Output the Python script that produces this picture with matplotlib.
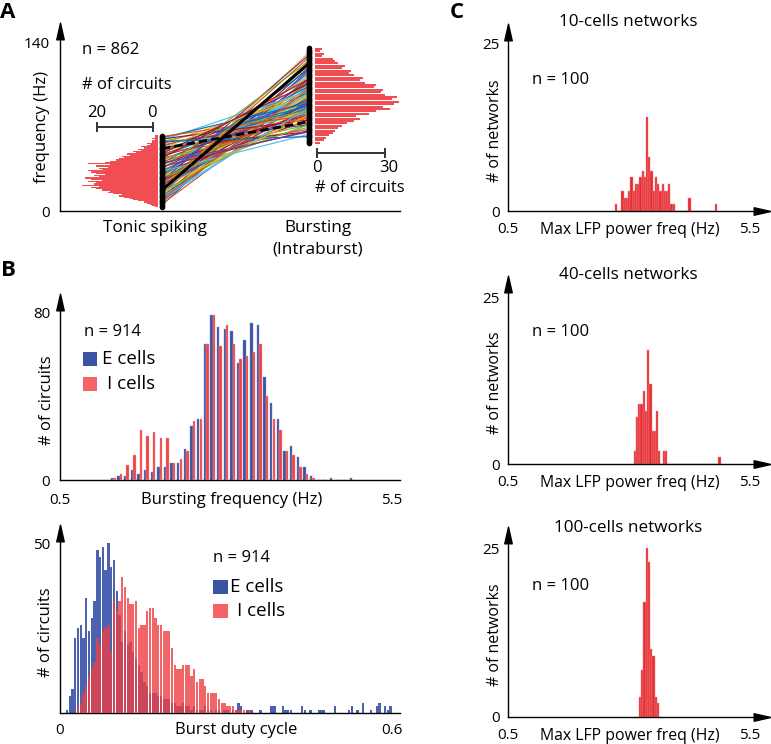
import numpy as np
import matplotlib
matplotlib.use('Agg')
import matplotlib.pyplot as plt
from matplotlib.path import Path
from matplotlib.patches import Rectangle

plt.rcParams['font.family'] = ['Open Sans', 'DejaVu Sans']
plt.rcParams['axes.linewidth'] = 1.0

# ---------------- DATA ----------------
# Panel A: histograms of firing frequency (Hz)
tonic_bin_hz = list(range(3, 63))            # 1-Hz bins (lower edges)
tonic_counts = [1, 2, 3, 4, 5, 7, 9, 10, 12, 14, 13, 16, 18, 17, 20, 22,
                24, 21, 27, 23, 22, 25, 20, 24, 26, 21, 23, 19, 22, 24, 25, 20,
                21, 18, 22, 17, 25, 19, 17, 15, 14, 12, 13, 10, 11, 8, 9, 6,
                7, 5, 6, 4, 3, 4, 2, 2, 1, 2, 1, 1]
burst_bin_hz = list(range(56, 136, 2))       # 2-Hz bins (lower edges)
burst_counts = [2, 4, 5, 6, 8, 9, 10, 12, 14, 17, 20, 18, 24, 27, 33, 30, 35, 37,
                34, 36, 31, 29, 30, 26, 27, 22, 20, 21, 17, 15, 16, 12, 13, 10, 9,
                8, 3, 4, 2, 3]
# circuits: tonic frequency -> intraburst frequency
tonic_line_hz = [5, 6, 7, 8, 9, 10, 11, 12, 13, 14, 15, 16, 17, 18, 19, 20, 21, 22,
                 23, 24, 25, 26, 27, 28, 29, 30, 31, 32, 33, 34, 35, 36, 37, 38, 39,
                 40, 41, 42, 43, 44, 45, 46, 47, 48, 49, 50, 51, 52, 53, 54, 55, 56,
                 57, 58, 59, 60, 61, 62, 18, 25, 35, 12, 44, 30, 22, 52, 40, 28, 33,
                 48, 58, 10, 20, 37]
burst_line_hz = [118, 96, 126, 104, 112, 88, 120, 100, 108, 94, 116, 84, 104, 110,
                 92, 128, 98, 86, 106, 114, 90, 100, 80, 96, 108, 88, 102, 76, 94,
                 84, 112, 90, 70, 98, 82, 104, 78, 92, 86, 72, 96, 80, 88, 68, 84,
                 92, 74, 82, 66, 88, 78, 96, 72, 84, 100, 76, 90, 80, 132, 130, 125,
                 86, 110, 118, 122, 100, 66, 72, 64, 106, 62, 102, 80, 67]
solid_pair_hz = [17.5, 123]
dashed_pair_hz = [52, 74.4]

# Panel B (top): bursting frequency histogram, 0.1-Hz bins
bf_hz = [1.3, 1.4, 1.5, 1.6, 1.7, 1.8, 1.9, 2.0, 2.1, 2.2, 2.3, 2.4, 2.5, 2.6, 2.7,
         2.8, 2.9, 3.0, 3.1, 3.2, 3.3, 3.4, 3.5, 3.6, 3.7, 3.8, 3.9, 4.0, 4.1, 4.2,
         4.3, 4.4, 4.5, 4.6, 4.7, 4.8, 4.9]
bf_E = [1, 2, 2, 5, 3, 5, 4, 6, 6, 8, 8, 15, 26, 29, 65, 79, 73, 72, 71, 56, 67, 75,
        74, 49, 37, 29, 14, 16, 11, 6, 2, 0, 0, 1, 0, 0, 1]
bf_I = [1, 3, 7, 12, 24, 21, 23, 20, 20, 8, 10, 14, 28, 29, 65, 79, 64, 74, 65, 58,
        59, 61, 65, 40, 29, 24, 14, 12, 6, 3, 1, 0, 0, 0, 0, 0, 0]

# Panel B (bottom): burst duty cycle histogram, 0.005 bins from 0 to 0.6
dc_E = [0, 0, 1, 5, 7, 22, 25, 26, 22, 34, 24, 28, 33, 48, 46, 49, 42, 50, 43, 45,
        36, 29, 21, 24, 20, 21, 18, 16, 14, 12, 9, 8, 6, 6, 6, 5, 5, 4, 4, 4,
        3, 3, 2, 2, 3, 2, 2, 1, 2, 1, 1, 1, 2, 1, 1, 0, 1, 1, 0, 1,
        1, 0, 1, 1, 3, 2, 0, 1, 1, 1, 0, 0, 1, 0, 0, 0, 2, 2, 0, 0,
        2, 1, 1, 1, 0, 0, 0, 2, 1, 0, 1, 0, 0, 1, 1, 1, 0, 0, 0, 2,
        0, 0, 0, 0, 1, 2, 0, 1, 0, 3, 0, 0, 1, 0, 2, 3, 0, 2, 1, 2]
dc_I = [0, 0, 0, 0, 0, 0, 2, 3, 6, 8, 11, 13, 15, 22, 20, 24, 25, 26, 18, 33,
        30, 33, 40, 37, 34, 32, 32, 33, 25, 26, 26, 30, 31, 31, 28, 26, 26, 24, 24, 24,
        19, 14, 13, 13, 14, 14, 14, 11, 13, 9, 10, 10, 8, 6, 6, 6, 6, 4, 3, 3,
        2, 2, 2, 1, 1, 1, 1, 0, 1, 0, 0, 0, 0, 0, 0, 0, 0, 0, 0, 0,
        0, 0, 0, 0, 0, 0, 0, 0, 0, 0, 0, 0, 0, 0, 0, 0, 0, 0, 0, 0,
        0, 0, 0, 0, 0, 0, 0, 0, 0, 0, 0, 0, 0, 0, 0, 0, 0, 0, 0, 0]

# Panel C: max LFP power frequency histograms (bins of ~0.046 Hz)
c_titles = ['10-cells networks', '40-cells networks', '100-cells networks']
c_start_hz = [2.73, 3.12, 3.23]
c_counts = [
    [1, 0, 0, 3, 2, 2, 3, 5, 3, 4, 4, 5, 6, 5, 14, 8, 6, 3, 5, 4, 3, 4, 3, 3, 4, 1, 1,
     0, 0, 0, 0, 0, 0, 2, 0, 0, 0, 0, 0, 0, 0, 0, 0, 0, 0, 1],
    [2, 7, 9, 9, 11, 8, 17, 12, 5, 5, 8, 2, 0, 2, 2, 0, 0, 0, 0, 0, 0, 0, 0, 0, 0, 0,
     0, 0, 0, 0, 0, 0, 0, 0, 0, 0, 0, 0, 1],
    [3, 7, 17, 25, 23, 10, 9, 3, 2],
]

# ---------------- LAYOUT HELPERS ----------------
W, H = 771, 744
fig = plt.figure(figsize=(W / 100, H / 100), dpi=100)


def add_ax(left, right, bottom, top):
    return fig.add_axes([left / W, 1 - bottom / H, (right - left) / W, (bottom - top) / H])


def ftext(x, y, s, **kw):
    kw.setdefault('ha', 'left')
    kw.setdefault('va', 'center')
    return fig.text(x / W, 1 - y / H, s, **kw)


def frect(x0, y0, x1, y1, color):
    fig.add_artist(Rectangle((x0 / W, 1 - y1 / H), (x1 - x0) / W, (y1 - y0) / H,
                             transform=fig.transFigure, color=color, lw=0))


UP = Path([(-0.45, -1), (0.45, -1), (0, 1), (-0.45, -1)],
          [Path.MOVETO, Path.LINETO, Path.LINETO, Path.CLOSEPOLY])
RIGHT = Path([(-1, -0.45), (-1, 0.45), (1, 0), (-1, -0.45)],
             [Path.MOVETO, Path.LINETO, Path.LINETO, Path.CLOSEPOLY])


def style(ax, xarrow=False):
    for s in ('top', 'right'):
        ax.spines[s].set_visible(False)
    ax.tick_params(length=0, labelsize=11)
    ax.plot([0], [1], marker=UP, ms=12, color='k', transform=ax.transAxes,
            clip_on=False, zorder=10)
    if xarrow:
        ax.plot([1], [0], marker=RIGHT, ms=12, color='k', transform=ax.transAxes,
                clip_on=False, zorder=10)


RED_A = '#F04E52'
BLUE = '#3A54A4'
RED_B = '#EE4444'
RED_C = '#E62B30'

# ---------------- PANEL A ----------------
axA = add_ax(60, 400, 211, 31)
axA.set_xlim(0, 340)
axA.set_ylim(0, 150)
style(axA)
axA.set_xticks([])
axA.set_yticks([0, 140])
axA.tick_params(axis='y', pad=7)
TONIC_X, BURST_X = 102, 249
palette = ['#0072BD', '#D95319', '#EDB120', '#7E2F8E', '#77AC30', '#4DBEEE', '#A2142F']
for i, (t, b) in enumerate(zip(tonic_line_hz, burst_line_hz)):
    axA.plot([TONIC_X, BURST_X], [t, b], color=palette[i % len(palette)], lw=0.85, zorder=2)
axA.plot([TONIC_X, BURST_X], solid_pair_hz, color='k', lw=2.2, zorder=4)
axA.plot([TONIC_X, BURST_X], dashed_pair_hz, color='k', lw=2.0, ls=(0, (3, 1.5)), zorder=4)

tc = np.array(tonic_bin_hz) + 0.5
tcount = np.array(tonic_counts)
axA.barh(tc, -tcount * 2.8, height=0.9, left=98, color=RED_A, lw=0, zorder=3)
bc = np.array(burst_bin_hz) + 1.0
bcount = np.array(burst_counts)
axA.barh(bc, bcount * 2.27, height=1.8, left=255, color=RED_A, lw=0, zorder=3, clip_on=False)
axA.plot(np.full(len(tc), TONIC_X), tc, 'o', ms=3.0, color='k', zorder=5)
axA.plot(np.full(len(bc) * 2, BURST_X), np.concatenate([bc - 0.5, bc + 0.5]), 'o',
         ms=3.0, color='k', zorder=5)
# scale bars
for (x0, x1, y) in [(37, 93, 70), (257, 325, 48.3)]:
    axA.plot([x0, x1], [y, y], color='#333333', lw=1.4, clip_on=False)
    axA.plot([x0, x0], [y - 3.5, y + 3.5], color='#333333', lw=1.4, clip_on=False)
    axA.plot([x1, x1], [y - 3.5, y + 3.5], color='#333333', lw=1.4, clip_on=False)
axA.text(22, 134, 'n = 862', fontsize=12, va='center')
axA.text(22, 105, '# of circuits', fontsize=12, va='center')
axA.text(37, 82, '20', fontsize=12, ha='center', va='center')
axA.text(92, 82, '0', fontsize=12, ha='center', va='center')
axA.text(257, 36, '0', fontsize=12, ha='center', va='center')
axA.text(329, 36, '30', fontsize=12, ha='center', va='center', clip_on=False)
axA.text(300, 19, '# of circuits', fontsize=12, ha='center', va='center', clip_on=False)
ftext(155, 228, 'Tonic spiking', fontsize=12.3, ha='center')
ftext(318, 228, 'Bursting', fontsize=12.3, ha='center')
ftext(318, 250, '(Intraburst)', fontsize=12.3, ha='center')
ftext(42, 127, 'frequency (Hz)', fontsize=12, rotation=90, ha='center')

# ---------------- PANEL B top ----------------
axB1 = add_ax(60, 400, 480, 302)
axB1.set_xlim(0.5, 5.62)
axB1.set_ylim(0, 85)
style(axB1)
x = np.array(bf_hz)
axB1.bar(x - 0.019, bf_E, width=0.036, color=BLUE, edgecolor='#7F92CF', lw=0.3, zorder=2)
axB1.bar(x + 0.019, bf_I, width=0.036, color=RED_B, edgecolor='#F59A9A', lw=0.3, zorder=3)
axB1.set_yticks([0, 80])
axB1.set_xticks([0.5, 5.5])
axB1.set_xticklabels(['0.5', '5.5'])
axB1.tick_params(axis='y', pad=7)
axB1.tick_params(axis='x', pad=9)
ftext(232, 500, 'Bursting frequency (Hz)', fontsize=12, ha='center')
ftext(47, 400, '# of circuits', fontsize=12, rotation=90, ha='center')
ftext(84, 332, 'n = 914', fontsize=12)
frect(83, 352, 97, 366, BLUE)
frect(83, 377, 97, 391, '#F26466')
ftext(102, 359, 'E cells', fontsize=13.5)
ftext(107, 384, 'I cells', fontsize=13.5)

# ---------------- PANEL B bottom ----------------
axB2 = add_ax(60, 400, 713, 533)
axB2.set_xlim(0, 0.6145)
axB2.set_ylim(0, 53)
style(axB2)
dc_x = (np.arange(len(dc_E)) + 0.5) * 0.005
axB2.bar(dc_x, dc_E, width=0.0042, color='#3A55AA', alpha=0.92, lw=0, zorder=2)
axB2.bar(dc_x, dc_I, width=0.0042, color='#EE3F44', alpha=0.8, lw=0, zorder=3)
axB2.set_yticks([50])
axB2.set_xticks([0, 0.6])
axB2.set_xticklabels(['0', '0.6'])
axB2.tick_params(axis='y', pad=7)
axB2.tick_params(axis='x', pad=7)
ftext(236, 730, 'Burst duty cycle', fontsize=12, ha='center')
ftext(46, 632, '# of circuits', fontsize=12, rotation=90, ha='center')
ftext(213, 558, 'n = 914', fontsize=12)
frect(213, 580, 228, 594, BLUE)
frect(213, 604, 228, 618, '#F26466')
ftext(230, 587, 'E cells', fontsize=13.5)
ftext(237, 611, 'I cells', fontsize=13.5)

# ---------------- PANEL C ----------------
c_geo = [  # bottom, arrow-centre, title y, n y, ylabel y
    (211, 31.5, 22, 80, 131),
    (464, 283.5, 275, 332, 383),
    (717, 535, 528, 586, 635),
]
c_y25 = [43, 297, 548]
BINW = 0.046
for k in range(3):
    bottom, topc, ty, ny, yl = c_geo[k]
    s = (bottom - c_y25[k]) / 25.0
    ymax = (bottom - topc) / s
    ax = add_ax(508, 762, bottom, topc)
    ax.set_xlim(0.5, 5.748)
    ax.set_ylim(0, ymax)
    style(ax, xarrow=True)
    cnt = c_counts[k]
    xs = c_start_hz[k] + np.arange(len(cnt)) * BINW
    ax.bar(xs, cnt, width=BINW, color=RED_C, edgecolor='#F08A8C', lw=0.35, zorder=2)
    ax.set_yticks([0, 25])
    ax.set_xticks([0.5, 5.5])
    ax.set_xticklabels(['0.5', '5.5'])
    ax.tick_params(axis='y', pad=6)
    ax.tick_params(axis='x', pad=8)
    ftext(630, bottom + 19, 'Max LFP power freq (Hz)', fontsize=11.4, ha='center')
    ftext(628, ty, c_titles[k], fontsize=12.3, ha='center')
    ftext(532, ny, 'n = 100', fontsize=12)
    ftext(495, yl, '# of networks', fontsize=11.5, rotation=90, ha='center')

# panel letters
ftext(8, 13, 'A', fontsize=16, fontweight='bold', ha='center')
ftext(8, 270, 'B', fontsize=16, fontweight='bold', ha='center')
ftext(457, 13, 'C', fontsize=16, fontweight='bold', ha='center')

fig.savefig('out.png', dpi=100)
